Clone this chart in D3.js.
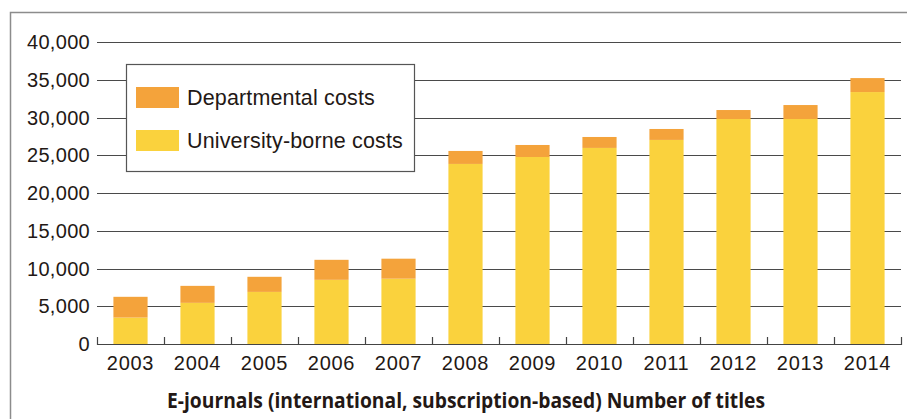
<!DOCTYPE html>
<html>
<head>
<meta charset="utf-8">
<script src="https://cdn.jsdelivr.net/npm/d3@7"></script>
<style>
  html, body { margin: 0; padding: 0; background: #fff; }
  svg { display: block; }
</style>
</head>
<body>
<svg id="chart" width="907" height="419"></svg>
<script>
const years = ["2003","2004","2005","2006","2007","2008","2009","2010","2011","2012","2013","2014"];
const universityBorne = [3500, 5450, 6900, 8500, 8650, 23850, 24770, 25970, 27030, 29800, 29800, 33370];
const departmental   = [2750, 2250, 2000, 2650, 2650, 1720, 1590, 1450, 1450, 1190, 1850, 1850];
const yTicks = [0, 5000, 10000, 15000, 20000, 25000, 30000, 35000, 40000];
const seriesNames = ["Departmental costs", "University-borne costs"];
const seriesColors = ["#F4A33B", "#FAD23D"];
const xTitle = "E-journals (international, subscription-based) Number of titles";

const svg = d3.select("#chart");
const textColor = "#231815";

// frame
svg.append("rect").attr("x", 10.5).attr("y", 12.5).attr("width", 950).attr("height", 450)
  .attr("fill", "none").attr("stroke", "#8c8c8c").attr("stroke-width", 1.5);

const x = d3.scaleBand().domain(years).range([97, 901]).paddingInner(0.49).paddingOuter(0.245);
const y = d3.scaleLinear().domain([0, 40000]).range([344, 42]);

// gridlines
svg.append("g").selectAll("line").data(yTicks.filter(d => d > 0)).join("line")
  .attr("x1", 97).attr("x2", 901)
  .attr("y1", d => Math.round(y(d)) + 0.5).attr("y2", d => Math.round(y(d)) + 0.5)
  .attr("stroke", "#4a4a4a").attr("stroke-width", 1.2);

// y tick labels
svg.append("g").selectAll("text").data(yTicks).join("text")
  .attr("x", 90).attr("y", d => y(d) + 7)
  .attr("text-anchor", "end")
  .attr("font-family", "'Liberation Sans', Arial, sans-serif")
  .attr("font-size", 20).attr("letter-spacing", 0.3).attr("fill", textColor)
  .text(d => d3.format(",")(d));

// stacked data
const rows = years.map((yr, i) => ({year: yr, uni: universityBorne[i], dep: departmental[i]}));
const stack = d3.stack().keys(["uni", "dep"]);
const stacked = stack(rows);
const colorFor = {uni: seriesColors[1], dep: seriesColors[0]};

svg.append("g").selectAll("g").data(stacked).join("g")
  .attr("fill", s => colorFor[s.key])
  .selectAll("rect").data(s => s).join("rect")
  .attr("x", d => x(d.data.year))
  .attr("width", x.bandwidth())
  .attr("y", d => y(d[1]))
  .attr("height", d => y(d[0]) - y(d[1]));

// x axis line and ticks (pointing up, at band boundaries)
const axisG = svg.append("g");
axisG.append("line").attr("x1", 97).attr("x2", 901).attr("y1", 344.5).attr("y2", 344.5)
  .attr("stroke", "#444").attr("stroke-width", 1.2);
const boundaries = years.map(yr => x(yr) + x.bandwidth() / 2 - x.step() / 2)
  .concat([x(years[years.length - 1]) + x.bandwidth() / 2 + x.step() / 2]);
axisG.selectAll("line.tk").data(boundaries).join("line").attr("class", "tk")
  .attr("x1", d => Math.round(d) + 0.5).attr("x2", d => Math.round(d) + 0.5)
  .attr("y1", 337).attr("y2", 345)
  .attr("stroke", "#444").attr("stroke-width", 1.2);

// x labels
svg.append("g").selectAll("text").data(years).join("text")
  .attr("x", d => x(d) + x.bandwidth() / 2).attr("y", 369.5)
  .attr("text-anchor", "middle")
  .attr("font-family", "'Liberation Sans', Arial, sans-serif")
  .attr("font-size", 20).attr("letter-spacing", 0.7).attr("fill", textColor)
  .text(d => d);

// x title
svg.append("text").attr("x", 466).attr("y", 408)
  .attr("text-anchor", "middle")
  .attr("font-family", "'Open Sans', 'Noto Sans', sans-serif")
  .attr("font-weight", "bold")
  .attr("font-size", 20.5).attr("fill", textColor)
  .attr("textLength", 598).attr("lengthAdjust", "spacingAndGlyphs")
  .text(xTitle);

// legend
const lg = svg.append("g");
lg.append("rect").attr("x", 126.5).attr("y", 64.5).attr("width", 288).attr("height", 107)
  .attr("fill", "#fff").attr("stroke", "#555").attr("stroke-width", 1.2);
const legendY = [87, 130];
seriesNames.forEach((name, i) => {
  lg.append("rect").attr("x", 136).attr("y", legendY[i]).attr("width", 43).attr("height", 21)
    .attr("fill", seriesColors[i]);
  lg.append("text").attr("x", 187).attr("y", legendY[i] + 17.5)
    .attr("font-family", "'Liberation Sans', Arial, sans-serif")
    .attr("font-size", 21.5).attr("letter-spacing", 0.15).attr("fill", textColor)
    .text(name);
});
</script>
</body>
</html>
